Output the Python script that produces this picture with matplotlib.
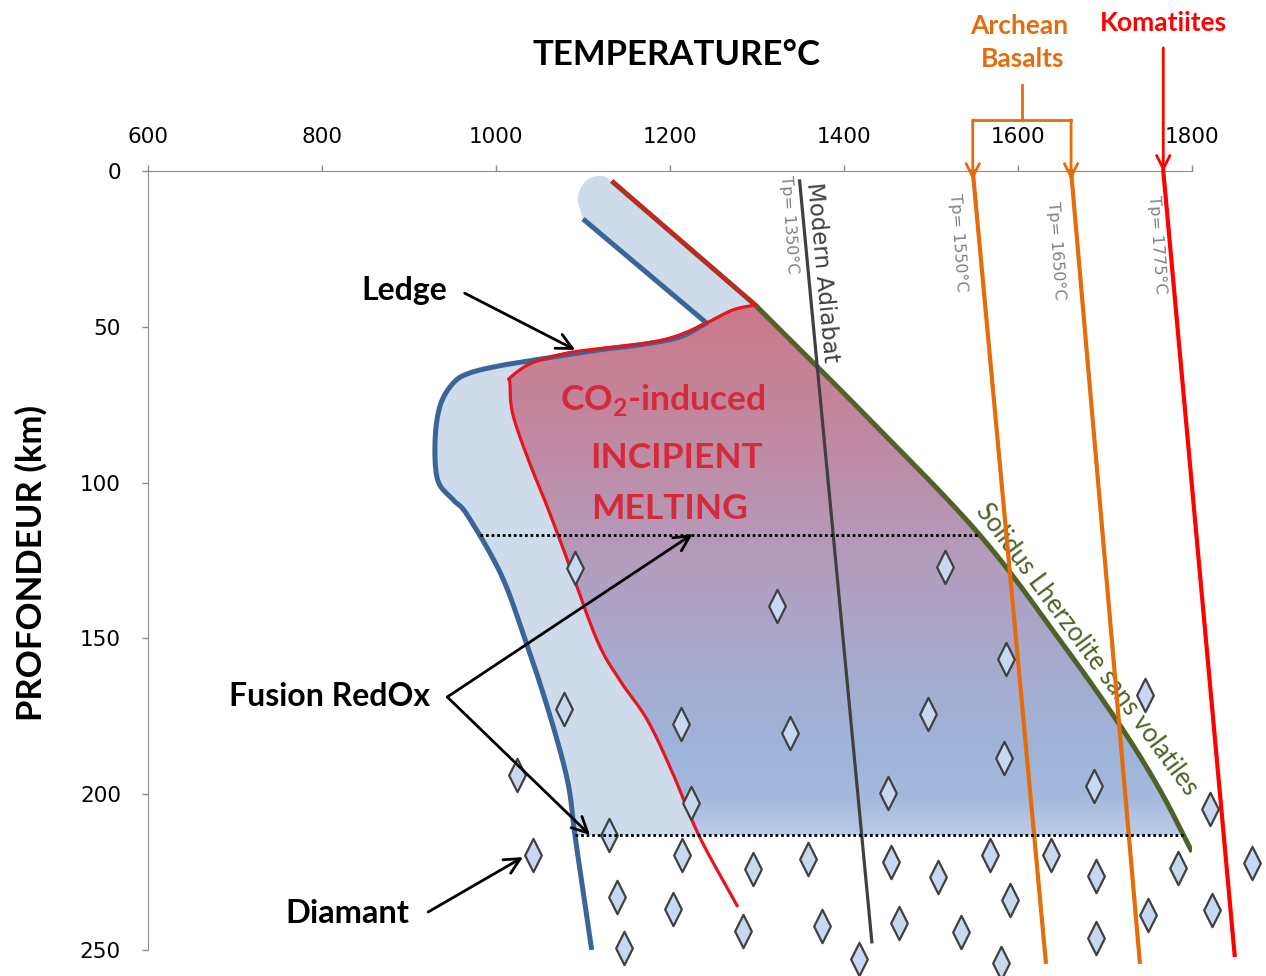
import numpy as np
import matplotlib.pyplot as plt
from matplotlib.path import Path
from matplotlib.patches import PathPatch
from matplotlib.colors import LinearSegmentedColormap

plt.rcParams['mathtext.fontset'] = 'custom'
plt.rcParams['mathtext.rm'] = 'Lato:bold'
plt.rcParams['mathtext.bf'] = 'Lato:bold'

# curves: temperature (°C) vs depth (km)
solidus_T = [1133, 1298, 1430, 1556, 1648, 1717, 1763, 1800]
solidus_D = [3.2, 43.0, 79.9, 116.8, 150.5, 177.8, 198.6, 218.5]

red_T = [1133, 1298, 1272, 1242, 1211, 1180, 1134, 1088, 1059, 1036, 1016, 1016,
         1019, 1036, 1059, 1082, 1116, 1142, 1174, 1203, 1234, 1278]
red_D = [3.2, 43.0, 44.6, 48.8, 52.6, 54.9, 56.5, 58.1, 60.0, 62.3, 66.4, 68.0,
         77.7, 91.8, 107.8, 124.8, 150.5, 163.3, 176.2, 193.2, 213.7, 236.2]

blue_T = [1100, 1242, 1211, 1165, 1119, 1059, 1008, 970, 951, 936, 930, 933,
          951, 967, 1005, 1031, 1059, 1082, 1091, 1110]
blue_D = [15.4, 48.8, 53.3, 55.8, 57.4, 60.0, 62.3, 64.8, 68.0, 75.1, 86.3, 99.2,
          105.6, 110.4, 129.0, 148.3, 172.0, 195.4, 213.7, 250.0]

cap_T = [1122, 1108, 1098, 1094]
cap_D = [1.6, 2.3, 5.1, 9.3]

adiabat_T = [1349, 1432]
adiabat_D = [3.2, 247.4]
basalt1_T = [1548, 1632]
basalt2_T = [1661, 1740]
basalt_D = [0, 253.8]
komat_T = [1767, 1849]
komat_D = [0, 251.6]

dotted_D = [116.8, 213.1]

diam_T = [1091, 1323, 1516, 1586, 1746, 1078, 1213, 1338, 1497, 1584,
          1024, 1224, 1451, 1687, 1821, 1130, 1043, 1214, 1295, 1359,
          1454, 1508, 1568, 1638, 1690, 1784, 1869, 1139, 1203, 1284,
          1375, 1463, 1535, 1591, 1690, 1749, 1823, 1147, 1417, 1581]
diam_D = [127.4, 139.6, 127.1, 156.6, 168.2, 172.7, 177.5, 180.4, 174.3, 188.4,
          193.8, 202.8, 199.6, 197.4, 204.7, 213.1, 219.5, 219.5, 224.0, 220.8,
          221.8, 226.6, 219.5, 219.5, 226.2, 223.7, 222.1, 233.0, 236.8, 243.9,
          242.3, 241.3, 244.2, 234.0, 246.1, 238.8, 237.2, 249.4, 252.9, 254.2]

xticks = [600, 800, 1000, 1200, 1400, 1600, 1800]
yticks = [0, 50, 100, 150, 200, 250]

LATO = ['Lato', 'DejaVu Sans']


def smooth(xs, ys, n=12):
    # catmull-rom through the read points, just to round the drawn line
    p = np.column_stack([xs, ys]).astype(float)
    p = np.vstack([2*p[0] - p[1], p, 2*p[-1] - p[-2]])
    t = np.linspace(0, 1, n, endpoint=False)[:, None]
    out = []
    for i in range(1, len(p) - 2):
        p0, p1, p2, p3 = p[i-1], p[i], p[i+1], p[i+2]
        out.append(0.5*(2*p1 + (p2 - p0)*t + (2*p0 - 5*p1 + 4*p2 - p3)*t**2
                        + (3*p1 - p0 - 3*p2 + p3)*t**3))
    out.append(p[-2][None])
    c = np.vstack(out)
    return c[:, 0], c[:, 1]


def smooth_from(xs, ys, k):
    # keep the first k segments straight, round the rest
    sx, sy = smooth(xs[k:], ys[k:])
    return np.r_[xs[:k], sx], np.r_[ys[:k], sy]


fig = plt.figure(figsize=(12.66, 9.76), dpi=100)
ax = fig.add_axes([148/1266, 1-950/976, 1044/1266, 779/976])

sol_T, sol_D = smooth_from(solidus_T, solidus_D, 1)
r_T, r_D = smooth_from(red_T, red_D, 1)
b_T, b_D = smooth_from(blue_T, blue_D, 1)
c_T, c_D = smooth([solidus_T[0]] + cap_T + [blue_T[0]], [solidus_D[0]] + cap_D + [blue_D[0]], 8)
dbot = dotted_D[1]
sol_bot = np.interp(dbot, sol_D, sol_T)

# light blue zone
m = b_D < dbot
ms = sol_D < dbot
poly1 = np.vstack([
    np.column_stack([b_T[m], b_D[m]]),
    [[np.interp(dbot, b_D, b_T), dbot], [sol_bot, dbot]],
    np.column_stack([sol_T[ms], sol_D[ms]])[::-1],
    np.column_stack([c_T, c_D]),
])
ax.add_patch(PathPatch(Path(poly1), facecolor='#CDDBEB', edgecolor='none', zorder=1))

# gradient zone (red curve to solidus)
mr = (r_D >= 43) & (r_D < dbot)
ms2 = (sol_D > 43) & (sol_D < dbot)
poly2 = np.vstack([
    np.column_stack([r_T[mr], r_D[mr]]),
    [[np.interp(dbot, r_D, r_T), dbot], [sol_bot, dbot]],
    np.column_stack([sol_T[ms2], sol_D[ms2]])[::-1],
])
clip = PathPatch(Path(poly2), facecolor='none', edgecolor='none')
ax.add_patch(clip)
cmap = LinearSegmentedColormap.from_list('melt', [
    (0.0, '#CC7888'), (0.3, '#BE8DA7'), (0.55, '#AEA2C4'),
    (0.85, '#9EB5DB'), (0.93, '#A4BADD'), (1.0, '#BACBE7')])
grad = np.linspace(0, 1, 256).reshape(-1, 1)
im = ax.imshow(grad, cmap=cmap, extent=[1000, 1800, dbot, 43], origin='upper',
               aspect='auto', zorder=2, interpolation='bilinear')
im.set_clip_path(clip)

# curves
ax.plot(sol_T, sol_D, color='#4F6228', lw=3.6, zorder=3, solid_capstyle='butt')
ax.plot(b_T, b_D, color='#3A6599', lw=3.6, zorder=4, solid_capstyle='butt')
ax.plot(r_T, r_D, color='#E8141E', lw=2.3, zorder=5, solid_capstyle='butt')
ax.plot(adiabat_T, adiabat_D, color='#404040', lw=2.3, zorder=5, clip_on=False)
ax.plot(basalt1_T, basalt_D, color='#E46C0A', lw=3, zorder=5, clip_on=False)
ax.plot(basalt2_T, basalt_D, color='#E46C0A', lw=3, zorder=5, clip_on=False)
ax.plot(komat_T, komat_D, color='#FF0000', lw=3, zorder=5, clip_on=False)

# dotted depth limits
for d in dotted_D:
    ax.plot([np.interp(d, b_D, b_T), np.interp(d, sol_D, sol_T)], [d, d],
            color='black', lw=2, ls=(0, (1, 1)), zorder=7)

# diamonds
dmark = Path([(0, 1), (0.5, 0), (0, -1), (-0.5, 0), (0, 1)],
             [Path.MOVETO, Path.LINETO, Path.LINETO, Path.LINETO, Path.CLOSEPOLY])
ax.plot(diam_T, diam_D, ls='none', marker=dmark, markersize=24,
        markerfacecolor='#C6D9F1', markeredgecolor='#404040', markeredgewidth=1.6,
        zorder=6, clip_on=False)

# axes style
ax.set_xlim(600, 1800)
ax.set_ylim(250, 0)
ax.xaxis.tick_top()
ax.set_xticks(xticks)
ax.set_yticks(yticks)
for s in ['right', 'bottom']:
    ax.spines[s].set_visible(False)
for s in ['top', 'left']:
    ax.spines[s].set_color('#8C8C8C')
ax.tick_params(axis='both', colors='#8C8C8C', length=4.5, width=1,
               labelcolor='black', labelsize=15.5)
ax.tick_params(axis='x', pad=13)
ax.tick_params(axis='y', pad=15)

fig.text(677/1266, 1-55/976, 'TEMPERATURE°C', family=LATO, weight='bold',
         fontsize=25, ha='center', va='center')
fig.text(31/1266, 1-563/976, 'PROFONDEUR (km)', family=LATO, weight='bold',
         fontsize=25, ha='center', va='center', rotation=90)

# labels on the curves
ax.text(1375, 32.7, 'Modern Adiabat', rotation=-84.6, color='#404040', fontsize=16.5,
        ha='center', va='center', rotation_mode='anchor')
for T, D, s in [(1337, 17.3, 'Tp= 1350°C'), (1531, 23.1, 'Tp= 1550°C'),
                (1644, 25.4, 'Tp= 1650°C'), (1760, 23.7, 'Tp= 1775°C')]:
    ax.text(T, D, s, rotation=-86, color='#808080', fontsize=11.5,
            ha='center', va='center', rotation_mode='anchor')
ax.text(1679, 153.5, 'Solidus Lherzolite sans volatiles', rotation=-53.5,
        color='#4F6228', fontsize=18.5, family=LATO, ha='center', va='center',
        rotation_mode='anchor')

red_txt = '#D42A3C'
ax.text(1192, 73.5, r'CO$_{2}$-induced', color=red_txt, fontsize=25.5, family=LATO,
        weight='bold', ha='center', va='center', zorder=9)
ax.text(1208, 92.1, 'INCIPIENT', color=red_txt, fontsize=25.5, family=LATO,
        weight='bold', ha='center', va='center', zorder=9)
ax.text(1200, 108.5, 'MELTING', color=red_txt, fontsize=25.5, family=LATO,
        weight='bold', ha='center', va='center', zorder=9)

arrow = dict(arrowstyle='->', lw=2, color='black', mutation_scale=28,
             shrinkA=0, shrinkB=0)
ax.text(895, 38.5, 'Ledge', fontsize=23, family=LATO, weight='bold',
        ha='center', va='center')
ax.annotate('', xy=(1091, 57.4), xytext=(964, 39.2), arrowprops=arrow, zorder=9)
ax.text(809, 168.8, 'Fusion RedOx', fontsize=23, family=LATO, weight='bold',
        ha='center', va='center')
ax.annotate('', xy=(1226, 116.5), xytext=(944, 168.8), arrowprops=arrow, zorder=9)
ax.annotate('', xy=(1108, 213.1), xytext=(944, 168.8), arrowprops=arrow, zorder=9)
ax.text(829, 238.4, 'Diamant', fontsize=23.5, family=LATO, weight='bold',
        ha='center', va='center')
ax.annotate('', xy=(1031, 220.2), xytext=(922, 237.8), arrowprops=arrow, zorder=9)

# Archean basalts / komatiites markers above the axis
orange = '#E46C0A'
ax.text(1601, -46.5, 'Archean', color=orange, fontsize=19, family=LATO,
        weight='bold', ha='center', va='center')
ax.text(1605, -35.9, 'Basalts', color=orange, fontsize=19, family=LATO,
        weight='bold', ha='center', va='center')
ax.text(1767, -47.5, 'Komatiites', color='#FF0000', fontsize=19, family=LATO,
        weight='bold', ha='center', va='center')
ax.plot([1605, 1605], [-27.6, -16.4], color=orange, lw=2, clip_on=False)
ax.plot([basalt1_T[0], basalt2_T[0]], [-16.4, -16.4], color=orange, lw=2, clip_on=False)
oarrow = dict(arrowstyle='->', lw=2, color=orange, mutation_scale=24,
              shrinkA=0, shrinkB=0)
ax.annotate('', xy=(basalt1_T[0], 2.9), xytext=(basalt1_T[0], -16.4),
            arrowprops=oarrow, annotation_clip=False)
ax.annotate('', xy=(basalt2_T[0], 2.9), xytext=(basalt2_T[0], -16.4),
            arrowprops=oarrow, annotation_clip=False)
ax.annotate('', xy=(komat_T[0], 0.3), xytext=(komat_T[0], -39.5),
            arrowprops=dict(oarrow, color='#FF0000'), annotation_clip=False)

fig.savefig('out.png', dpi=100)
